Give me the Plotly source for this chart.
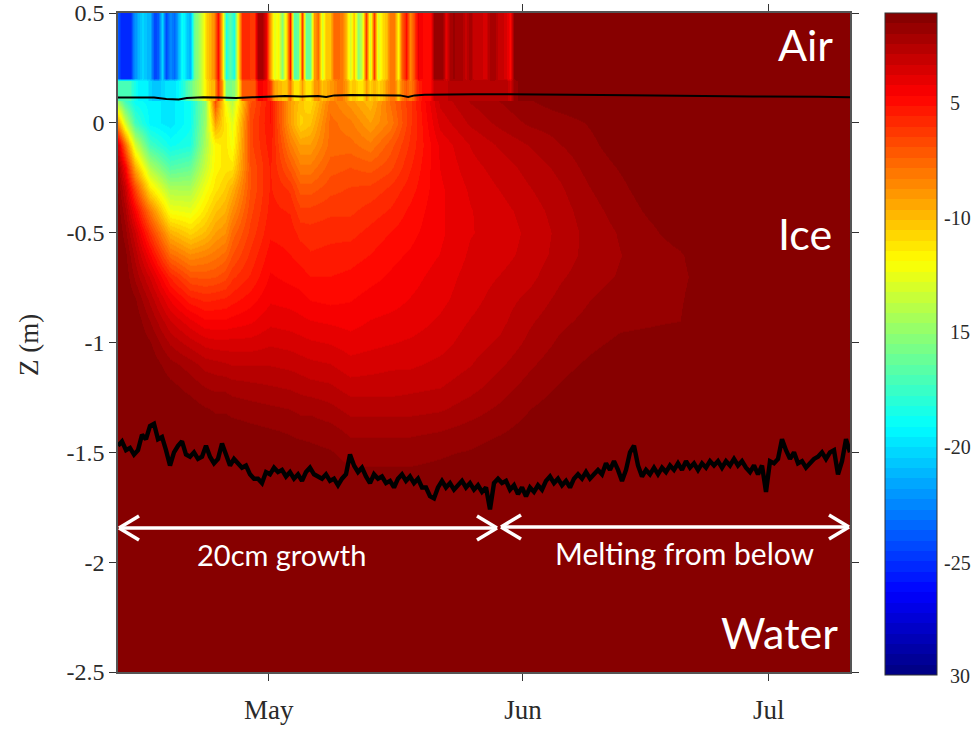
import numpy as np
import plotly.graph_objects as go

# ---------- data ----------
month_days = [121, 152, 182]
month_labels = ["May", "Jun", "Jul"]
z_ticks = [0.5, 0, -0.5, -1, -1.5, -2, -2.5]
z_labels = ["0.5", "0", "-0.5", "-1", "-1.5", "-2", "-2.5"]
cbar_labels = ["5", "-10", "15", "-20", "-25", "30"]

air_upper = [
 -23.5,-25,-25,-25,-22,-21,-20,-20.5,-21,-24,
 -23.5,-20,-24,-22,-23,-21,-18.5,-20,-21,-16,
 -14.5,-13,-10.5,-9.5,-8.5,-5,-10,-18,-16.5,-18,
 -11,-5.5,-5.5,-6,-6.2,-2,-2,-4,-9,-12.5,
 -11.5,-15,-11,-5,-16.5,-16,-6,-16,-16,-9,
 -7.5,-13,-10,-10,-7.5,-7.5,-8,-9.5,-13,-10,
 -15,-13,-6,-13,-6,-13,-11,-10,-8,-8,
 -11.5,-7,-5,-8.5,-6.5,-4,-4.5,-5,-5,-1.6,
 -1.6,-1.6,-3.8,-2,-1.8,-2.2,-2.2,-3,-2,-3.2,
 -3,-3.2,-3.5,-2,-2,-3,-3,-3.5,-4.7,-1.4,
 -1.2,-1.1,-1,-1,-1,-1]
air_lower = [
 -17,-17,-17,-17,-18,-19,-19,-19,-20,-20.5,
 -20.5,-20,-19.5,-19.5,-19.5,-19,-18,-17,-16,-15,
 -14,-13,-11,-10,-9.5,-5.5,-9,-15.5,-15.5,-15,
 -12,-7,-7,-7,-7,-4.5,-4.5,-5,-6,-9,
 -9.5,-10,-10,-8,-11,-11,-9,-11,-11,-9,
 -8.5,-10,-9.5,-9,-8.5,-8,-8,-9,-10.5,-10,
 -11,-11,-9,-10.5,-9.5,-10.5,-10,-9,-8,-8,
 -10,-8,-7,-8,-7,-5.5,-5,-5,-5,-3,
 -3,-3,-3,-2.5,-2.4,-2.4,-2.4,-2.4,-2.4,-2.4,
 -2.4,-2.4,-2.4,-2.4,-2.4,-2.4,-2.4,-2.4,-3.5,-1.6,
 -1.4,-1.3,-1.2,-1.2,-1.1,-1]
air_z = [0.5, 0.205, 0.19, 0.13]

ice_z = [0.125,0,-0.1,-0.2,-0.3,-0.4,-0.5,-0.6,-0.7,-0.8,-0.9,-1,-1.1,-1.2,-1.3,-1.4,-1.5,-1.7,-2.5]
ice_days = [102.6,103.45,104.67,106.5,108.94,111.38,113.21,114.43,115.65,116.5,118.7,121.14,
            123.58,124.8,126.0,128.45,130.9,133.33,135.77,138.2,141.87,145.53,149.2,152.84,
            156.5,160.16,163.8,167.5,171.1,173.6,176,191.9]
ice_columns = [
 [-16,-9,-3.5,-2,-1.5,-1.2,-1,-1,-1,-1,-1,-1,-1,-1,-1,-1,-1,-1,-1],
 [-18,-13,-7.5,-4.5,-3,-2.2,-1.7,-1.3,-1.1,-1,-1,-1,-1,-1,-1,-1,-1,-1,-1],
 [-19,-17,-13,-9.5,-6.5,-4.5,-3.2,-2.5,-2,-1.4,-1.1,-1,-1,-1,-1,-1,-1,-1,-1],
 [-19,-19,-17,-14,-11,-8,-6,-4.5,-3.3,-2.5,-1.9,-1.4,-1.1,-1,-1,-1,-1,-1,-1],
 [-19.5,-19.5,-18.5,-16.5,-14,-12,-9.5,-7.5,-5.5,-4.2,-3.2,-2.4,-1.7,-1.3,-1.1,-1,-1,-1,-1],
 [-18.5,-18.5,-18,-16,-14,-12.3,-10.5,-8.5,-6.8,-5.3,-4,-3,-2.1,-1.6,-1.2,-1,-1,-1,-1],
 [-15,-14.5,-14,-13.2,-12,-11,-9.8,-8.2,-6.9,-5.6,-4.5,-3.4,-2.5,-1.9,-1.4,-1.1,-1,-1,-1],
 [-6,-9,-11.5,-11.5,-11,-10,-9,-7.9,-6.8,-5.5,-4.5,-3.5,-2.6,-2,-1.5,-1.2,-1,-1,-1],
 [-12,-11,-11,-11,-10.3,-9.5,-8.6,-7.5,-6.5,-5.4,-4.5,-3.5,-2.7,-2,-1.5,-1.2,-1,-1,-1],
 [-14,-12.5,-12,-11,-9.5,-8.5,-7.5,-6.8,-6,-5.2,-4.4,-3.5,-2.8,-2.1,-1.6,-1.2,-1,-1,-1],
 [-7,-6.5,-6.5,-6.8,-6.8,-6.5,-6.2,-5.8,-5.4,-4.8,-4.2,-3.5,-2.8,-2.2,-1.7,-1.3,-1.1,-1,-1],
 [-5,-5,-5.2,-5.4,-5.4,-5.3,-5.1,-4.8,-4.5,-4.2,-3.8,-3.3,-2.8,-2.3,-1.8,-1.4,-1.1,-1,-1],
 [-9,-9,-8,-7,-6,-5.5,-5.2,-5,-4.7,-4.3,-3.9,-3.4,-2.9,-2.4,-1.9,-1.5,-1.2,-1,-1],
 [-10,-10.5,-9,-8,-7,-6.2,-5.6,-5.2,-4.8,-4.4,-4,-3.5,-3,-2.5,-2,-1.6,-1.2,-1,-1],
 [-11,-10,-9,-8,-7,-6.2,-5.7,-5.4,-5,-4.6,-4.1,-3.6,-3.1,-2.6,-2,-1.6,-1.3,-1,-1],
 [-8,-7.5,-7.5,-7,-6.5,-6,-5.6,-5.3,-5,-4.7,-4.2,-3.7,-3.2,-2.7,-2.2,-1.7,-1.4,-1,-1],
 [-9,-8,-7.5,-6.8,-6.3,-6,-5.6,-5.2,-4.9,-4.6,-4.3,-3.9,-3.5,-3,-2.5,-2,-1.6,-1.1,-1],
 [-10,-9,-8,-7,-6.2,-5.7,-5.3,-5,-4.7,-4.4,-4.1,-3.8,-3.4,-3,-2.5,-2,-1.6,-1.1,-1],
 [-7.5,-8,-7,-6.5,-5.8,-5.4,-5,-4.7,-4.5,-4.3,-4,-3.7,-3.3,-3,-2.5,-2,-1.6,-1.1,-1],
 [-6,-6,-5.8,-5.5,-5.2,-4.9,-4.7,-4.5,-4.3,-4.1,-3.9,-3.6,-3.3,-2.9,-2.5,-2,-1.6,-1.1,-1],
 [-3,-3.5,-4,-4.1,-4.2,-4.2,-4.2,-4.1,-3.9,-3.8,-3.6,-3.4,-3.1,-2.8,-2.4,-1.9,-1.5,-1.1,-1],
 [-2.2,-2.7,-3.2,-3.4,-3.6,-3.7,-3.7,-3.6,-3.5,-3.4,-3.2,-3,-2.8,-2.5,-2.1,-1.7,-1.4,-1,-1],
 [-1.8,-2.2,-2.7,-3,-3.2,-3.4,-3.5,-3.4,-3.2,-3,-2.9,-2.7,-2.4,-2.1,-1.8,-1.5,-1.2,-1,-1],
 [-1.4,-1.8,-2.3,-2.6,-2.8,-3,-3.1,-3.05,-2.9,-2.65,-2.4,-2.2,-1.95,-1.7,-1.45,-1.25,-1.1,-1,-1],
 [-1.1,-1.65,-1.9,-2.2,-2.4,-2.55,-2.65,-2.6,-2.4,-2.2,-2,-1.8,-1.6,-1.4,-1.2,-1.05,-1,-1,-1],
 [-1,-1.4,-1.55,-1.7,-1.9,-2.05,-2.15,-2.15,-2.05,-1.9,-1.75,-1.55,-1.35,-1.15,-1,-1,-1,-1,-1],
 [-1,-1.1,-1.2,-1.4,-1.55,-1.7,-1.85,-1.9,-1.85,-1.7,-1.55,-1.35,-1.15,-1,-1,-1,-1,-1,-1],
 [-1,-1,-1,-1.1,-1.2,-1.35,-1.55,-1.75,-1.8,-1.65,-1.5,-1.3,-1.1,-1,-1,-1,-1,-1,-1],
 [-1,-1,-1,-1,-1,-1.1,-1.2,-1.5,-1.55,-1.5,-1.45,-1.2,-1,-1,-1,-1,-1,-1,-1],
 [-1,-1,-1,-1,-1,-1,-1,-1.2,-1.3,-1.2,-1.1,-1,-1,-1,-1,-1,-1,-1,-1],
 [-1,-1,-1,-1,-1,-1,-1,-1,-1,-1,-1,-1,-1,-1,-1,-1,-1,-1,-1],
 [-1,-1,-1,-1,-1,-1,-1,-1,-1,-1,-1,-1,-1,-1,-1,-1,-1,-1,-1],
]

surface_days = [102.6,104,105.5,107,108.5,110,111,113,115,117,119,121,123,125,127,128,129,
                131,133,135,137,138,138.8,140,143,146,150,154,158,165,172,180,188,191.9]
surface_z = [0.115,0.115,0.117,0.115,0.108,0.106,0.113,0.117,0.115,0.113,0.116,0.12,0.122,0.12,0.122,0.118,0.125,
             0.127,0.127,0.127,0.125,0.118,0.125,0.128,0.13,0.13,0.13,0.13,0.128,0.126,0.122,0.12,0.119,0.117]

bottom_z = [
 -1.47,-1.45,-1.49,-1.48,-1.51,-1.49,-1.42,-1.44,-1.38,-1.37,-1.44,-1.43,-1.49,-1.56,-1.50,-1.47,-1.45,-1.51,-1.52,-1.50,
 -1.53,-1.52,-1.47,-1.52,-1.55,-1.53,-1.46,-1.51,-1.56,-1.53,-1.55,-1.57,-1.56,-1.60,-1.62,-1.62,-1.64,-1.59,-1.60,-1.57,
 -1.59,-1.58,-1.61,-1.59,-1.62,-1.60,-1.63,-1.59,-1.57,-1.60,-1.61,-1.62,-1.60,-1.63,-1.62,-1.65,-1.62,-1.60,-1.51,-1.56,
 -1.59,-1.57,-1.61,-1.64,-1.60,-1.62,-1.61,-1.64,-1.63,-1.66,-1.62,-1.60,-1.63,-1.61,-1.64,-1.62,-1.66,-1.66,-1.70,-1.71,
 -1.66,-1.63,-1.66,-1.64,-1.67,-1.65,-1.63,-1.66,-1.64,-1.67,-1.65,-1.68,-1.66,-1.76,-1.64,-1.62,-1.64,-1.63,-1.67,-1.65,
 -1.69,-1.66,-1.70,-1.66,-1.68,-1.65,-1.67,-1.63,-1.61,-1.64,-1.62,-1.65,-1.63,-1.66,-1.62,-1.60,-1.62,-1.59,-1.62,-1.60,
 -1.58,-1.60,-1.55,-1.58,-1.54,-1.58,-1.63,-1.58,-1.50,-1.47,-1.56,-1.61,-1.58,-1.60,-1.57,-1.60,-1.57,-1.59,-1.56,-1.58,
 -1.55,-1.58,-1.54,-1.57,-1.55,-1.58,-1.55,-1.57,-1.54,-1.56,-1.54,-1.57,-1.54,-1.56,-1.53,-1.56,-1.54,-1.57,-1.59,-1.56,
 -1.60,-1.56,-1.68,-1.54,-1.55,-1.53,-1.44,-1.49,-1.53,-1.50,-1.55,-1.54,-1.57,-1.55,-1.53,-1.52,-1.50,-1.53,-1.50,-1.49,
 -1.60,-1.54,-1.44,-1.50]

# ---------- geometry of the original frame ----------
W, H = 973, 729
L, R, T, B = 118, 850, 13, 672
DAY0, DAY1 = 102.6, 191.9
COLOR_SHIFT = -0.5   # reads were made against a scale topping at -1; the bar tops at -1.5
CMIN, CMAX = -30, -1.5

air_days = list(np.linspace(DAY0, DAY0 + (len(air_upper) - 1) * 4 / 8.2, len(air_upper))) + [DAY1]
air_grid = [air_upper + [-1], air_upper + [-1], air_lower + [-1], air_lower + [-1]]
air_grid = (np.array(air_grid, dtype=float) + COLOR_SHIFT).tolist()
ice_grid = (np.array(ice_columns, dtype=float).T + COLOR_SHIFT).tolist()
bottom_days = np.linspace(DAY0, DAY1, len(bottom_z))


def jet(v):
    f = lambda a: float(np.clip(min(4 * v - a + 1.5, -4 * v + a + 1.5), 0, 1))
    return f(3), f(2), f(1)


N = 64
scale = []
for i in range(N):
    r, g, b = jet((i + 0.5) / N)
    c = f"rgb({round(r*255)},{round(g*255)},{round(b*255)})"
    scale += [[i / N, c], [(i + 1) / N, c]]

fig = go.Figure()
fig.add_trace(go.Heatmap(x=ice_days, y=ice_z, z=ice_grid, coloraxis="coloraxis", zsmooth="best", hoverinfo="skip"))
fig.add_trace(go.Heatmap(x=air_days, y=air_z, z=air_grid, coloraxis="coloraxis", zsmooth="best", hoverinfo="skip"))
fig.add_trace(go.Scatter(x=surface_days, y=surface_z, mode="lines", line=dict(color="black", width=2), showlegend=False))
fig.add_trace(go.Scatter(x=bottom_days, y=bottom_z, mode="lines", line=dict(color="black", width=4.4), showlegend=False))

SERIF = "Liberation Serif, serif"
SANS = "Lato, Open Sans, sans-serif"
INK = "#2a2a2a"


def label(text, x, y, size, color="white", family=SANS, anchor="center", angle=0):
    fig.add_annotation(text=text, xref="paper", yref="paper", x=(x - L) / (R - L), y=(B - y) / (B - T),
                       showarrow=False, xanchor=anchor, yanchor="middle",
                       font=dict(family=family, size=size, color=color), textangle=angle)


label("Air", 805, 45, 43)
label("Ice", 805, 234, 43)
label("Water", 779, 632, 43)
label("20cm growth", 281, 554, 29)
label("Melting from below", 685, 553, 30)
label("Z (m)", 29, 345, 27, color=INK, family=SERIF, angle=-90)
for text, x, y in zip(cbar_labels, [948, 942, 948, 942, 942, 948], [103, 218, 332, 447, 563, 676]):
    label(text, x, y, 20, color=INK, family=SERIF, anchor="left")


def shape_line(x0, y0, x1, y1, color="white", width=3.5):
    fig.add_shape(type="line", xref="paper", yref="paper",
                  x0=(x0 - L) / (R - L), y0=(B - y0) / (B - T), x1=(x1 - L) / (R - L), y1=(B - y1) / (B - T),
                  line=dict(color=color, width=width), layer="above")


for x0, x1, y in [(119, 497, 528), (501, 849, 527)]:
    shape_line(x0, y, x1, y)
    shape_line(x0, y, x0 + 20, y - 12)
    shape_line(x0, y, x0 + 20, y + 12)
    shape_line(x1, y, x1 - 20, y - 12)
    shape_line(x1, y, x1 - 20, y + 12)

# tick marks on both sides of the colour bar
for y in [94, 210, 326, 442, 557]:
    shape_line(885, y, 891, y, color="#222", width=1)
    shape_line(931, y, 937, y, color="#222", width=1)

axis = dict(showgrid=False, zeroline=False, showline=True, linecolor="#555", linewidth=1.5, mirror="ticks",
            ticks="outside", ticklen=7, tickcolor="#333")
fig.update_layout(
    width=W, height=H, autosize=False, paper_bgcolor="white", plot_bgcolor="#800000",
    margin=dict(l=L, r=W - R, t=T, b=H - B, autoexpand=False), showlegend=False,
    xaxis=dict(range=[DAY0, DAY1], tickmode="array", tickvals=month_days, ticktext=month_labels,
               ticklabelstandoff=6, tickfont=dict(family=SERIF, size=27, color=INK), **axis),
    yaxis=dict(range=[-2.5, 0.5], tickmode="array", tickvals=z_ticks, ticktext=z_labels,
               tickfont=dict(family=SERIF, size=24, color=INK), **axis),
    coloraxis=dict(cmin=CMIN, cmax=CMAX, colorscale=scale,
                   colorbar=dict(x=(885 - L) / (R - L), xanchor="left",
                                 y=1, yanchor="top", lenmode="pixels", len=662,
                                 thickness=52, thicknessmode="pixels", showticklabels=False, ticks="",
                                 outlinecolor="#333", outlinewidth=1, xpad=0, ypad=0)),
)
fig.write_html("out.html", config={"displayModeBar": False},
               post_script="document.body.style.margin='0';window.dispatchEvent(new Event('resize'));")
